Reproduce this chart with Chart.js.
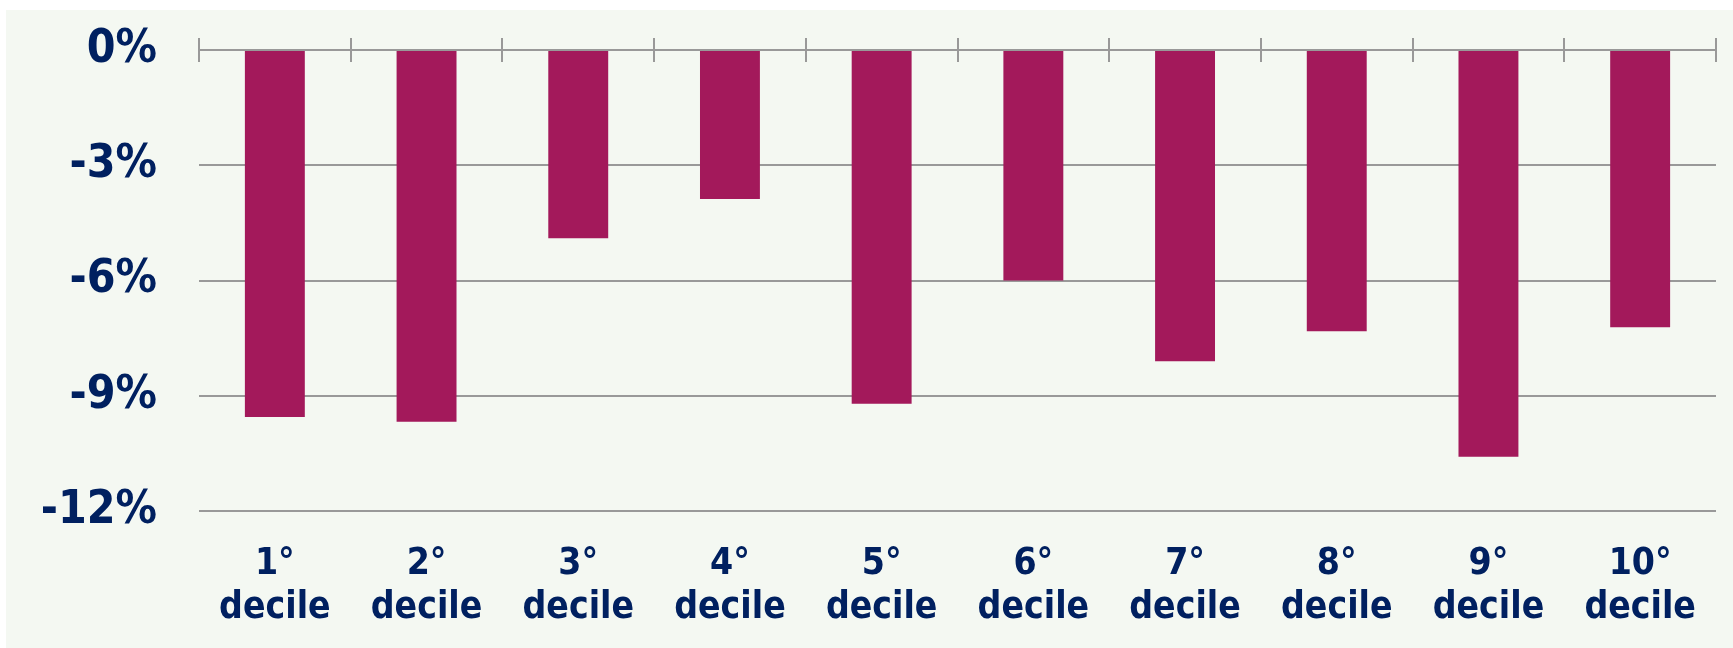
<!DOCTYPE html>
<html>
<head>
<meta charset="utf-8">
<script src="https://cdn.jsdelivr.net/npm/chart.js@4/dist/chart.umd.min.js"></script>
<style>
    html, body { margin: 0; padding: 0; background: #ffffff; }
    #wrap {
        position: absolute;
        left: 6px; top: 10px;
        width: 1727px; height: 638px;
        background: #f4f8f2;
    }
</style>
</head>
<body>
<div id="wrap"><canvas id="decile-chart"></canvas></div>
<script>
// --- DATA ---
const deciles = [['1°', 'decile'], ['2°', 'decile'], ['3°', 'decile'], ['4°', 'decile'], ['5°', 'decile'],
                 ['6°', 'decile'], ['7°', 'decile'], ['8°', 'decile'], ['9°', 'decile'], ['10°', 'decile']];
const changePct = [-9.55, -9.68, -4.90, -3.88, -9.21, -6.00, -8.10, -7.32, -10.59, -7.22];
const yTicks = [0, -3, -6, -9, -12];

const NAVY = '#002060';
const GRID = '#999999';
const FONT = '"DejaVu Sans Condensed", "DejaVu Sans", sans-serif';

// small tick marks across the zero line, at each category boundary
const zeroTicks = {
    id: 'zeroTicks',
    afterDatasetsDraw(chart) {
        const x = chart.scales.x;
        const y0 = chart.scales.y.getPixelForValue(0);
        const step = (x.right - x.left) / deciles.length;
        const ctx = chart.ctx;
        ctx.save();
        ctx.strokeStyle = GRID;
        ctx.lineWidth = 2;
        ctx.beginPath();
        for (let i = 0; i <= deciles.length; i++) {
            const px = Math.round(x.left + i * step);
            ctx.moveTo(px, y0 - 12);
            ctx.lineTo(px, y0 + 12);
        }
        ctx.moveTo(x.left, y0);
        ctx.lineTo(x.right, y0);
        ctx.stroke();
        ctx.restore();
    }
};

const ctx = document.getElementById('decile-chart').getContext('2d');
new Chart(ctx, {
    type: 'bar',
    data: {
        labels: deciles,
        datasets: [{
            data: changePct,
            backgroundColor: '#a3195b',
            borderWidth: 0,
            barPercentage: 0.79,
            categoryPercentage: 0.5
        }]
    },
    options: {
        responsive: true,
        maintainAspectRatio: false,
        animation: false,
        layout: { padding: { top: 40, right: 17, bottom: 0, left: 0 } },
        plugins: { legend: { display: false }, tooltip: { enabled: false } },
        scales: {
            x: {
                grid: { display: false, drawTicks: false },
                border: { display: false },
                ticks: {
                    color: NAVY,
                    padding: 31,
                    maxRotation: 0,
                    autoSkip: false,
                    font: { family: FONT, weight: 'bold', size: 37, lineHeight: 1.2 }
                },
                afterFit(scale) { scale.height = 137; }
            },
            y: {
                min: -12,
                max: 0,
                afterBuildTicks(scale) { scale.ticks = yTicks.map(v => ({ value: v })); },
                grid: { color: GRID, lineWidth: 2, drawTicks: false },
                border: { display: false },
                ticks: {
                    color: NAVY,
                    padding: 42,
                    font: { family: FONT, weight: 'bold', size: 46 },
                    callback: (v) => v + '%'
                },
                afterFit(scale) {
                    scale.width = 193;
                    scale.paddingTop = 0;
                    scale.paddingBottom = 0;
                }
            }
        }
    },
    plugins: [zeroTicks]
});
</script>
</body>
</html>
